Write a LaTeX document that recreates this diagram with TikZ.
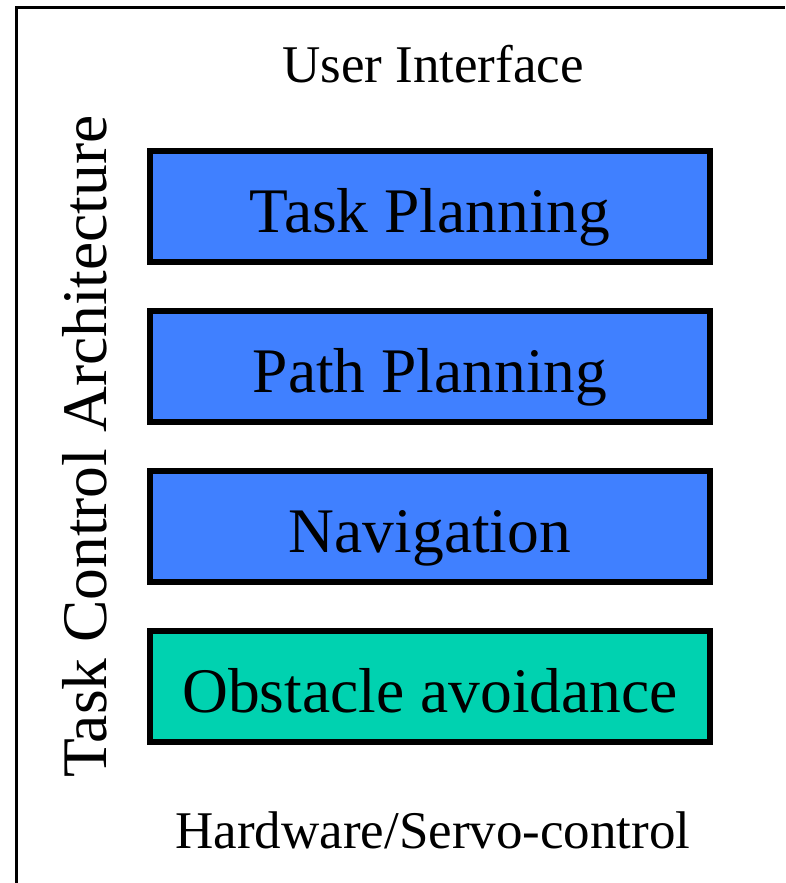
\documentclass[tikz,border=0pt]{standalone}
\usepackage{fontspec}
\setmainfont{Liberation Serif}
\definecolor{layerblue}{RGB}{64,128,255}
\definecolor{layerteal}{RGB}{0,210,176}
\begin{document}
\begin{tikzpicture}[x=1pt,y=-1pt,
  layer/.style={draw=black, line width=6pt, minimum width=560pt, minimum height=111pt,
    inner sep=0pt, text height=70pt, text depth=19pt,
    font=\fontsize{63.5}{70}\selectfont},
  edgelabel/.style={inner sep=0pt, anchor=base, font=\fontsize{53}{60}\selectfont}]
  \useasboundingbox (0,0) rectangle (785,883);
  % outer frame (open to the right and bottom)
  \draw[line width=3pt] (16.5,883) -- (16.5,7.5) -- (785,7.5);
  % stacked control layers
  \node[layer, fill=layerblue] (task) at (430,206.5) {Task Planning};
  \node[layer, fill=layerblue] (path) at (430,366.5) {Path Planning};
  \node[layer, fill=layerblue] (nav)  at (430,526.5) {Navigation};
  \node[layer, fill=layerteal] (obst) at (430,686.5) {Obstacle avoidance};
  % interfaces above and below the stack
  \node[edgelabel] (ui) at (433,82) {User Interface};
  \node[edgelabel] (hw) at (433,848) {Hardware/Servo-control};
  % side title
  \node[inner sep=0pt, anchor=base, rotate=90, font=\fontsize{63.5}{70}\selectfont]
    (title) at (106,446.5) {Task Control Architecture};
\end{tikzpicture}
\end{document}
